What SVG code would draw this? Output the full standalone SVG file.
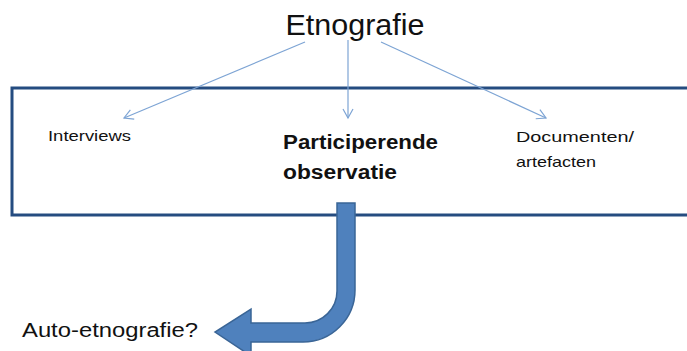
<svg xmlns="http://www.w3.org/2000/svg" width="687" height="351" viewBox="0 0 687 351">
<style>
text{font-family:"Liberation Sans",Arial,sans-serif;fill:#111}
.c{stroke:#7da4d4;stroke-width:1.2;fill:none}
</style>
<defs>
<marker id="ah" markerWidth="12" markerHeight="12" refX="10" refY="6" orient="auto" markerUnits="userSpaceOnUse">
<path d="M1,1 L10,6 L1,11" fill="none" stroke="#7da4d4" stroke-width="1.2"/>
</marker>
</defs>
<rect width="687" height="351" fill="#fff"/>
<g id="box"><rect x="12" y="88" width="690" height="127" fill="#fff" stroke="#254c80" stroke-width="3"/></g>
<g id="etnografie"><text x="355" y="35" font-size="30" text-anchor="middle" textLength="139" lengthAdjust="spacingAndGlyphs">Etnografie</text></g>
<g id="connectors">
<line class="c" x1="305" y1="42" x2="124" y2="118" marker-end="url(#ah)"/>
<line class="c" x1="348" y1="40" x2="348" y2="118" marker-end="url(#ah)"/>
<line class="c" x1="381" y1="42" x2="546" y2="118" marker-end="url(#ah)"/>
<path d="M337,203 L355,203 L355,290 A52,52 0 0 1 303,342 L251,342 L251,356 L215,332 L251,309 L251,323 L305,323 A32,32 0 0 0 337,291 Z" fill="#4f81bd" stroke="#3a6596" stroke-width="1.5"/>
</g>
<g id="interviews"><text x="48" y="141" font-size="15" textLength="83" lengthAdjust="spacingAndGlyphs">Interviews</text></g>
<g id="participerende"><text x="283" y="149" font-size="20" font-weight="bold" textLength="155" lengthAdjust="spacingAndGlyphs">Participerende</text><text x="283" y="179" font-size="20" font-weight="bold" textLength="114" lengthAdjust="spacingAndGlyphs">observatie</text></g>
<g id="documenten"><text x="516" y="142" font-size="15" textLength="118" lengthAdjust="spacingAndGlyphs">Documenten/</text><text x="516" y="167" font-size="15" textLength="80" lengthAdjust="spacingAndGlyphs">artefacten</text></g>
<g id="auto"><text x="22" y="337" font-size="20" textLength="176" lengthAdjust="spacingAndGlyphs">Auto-etnografie?</text></g>
</svg>
